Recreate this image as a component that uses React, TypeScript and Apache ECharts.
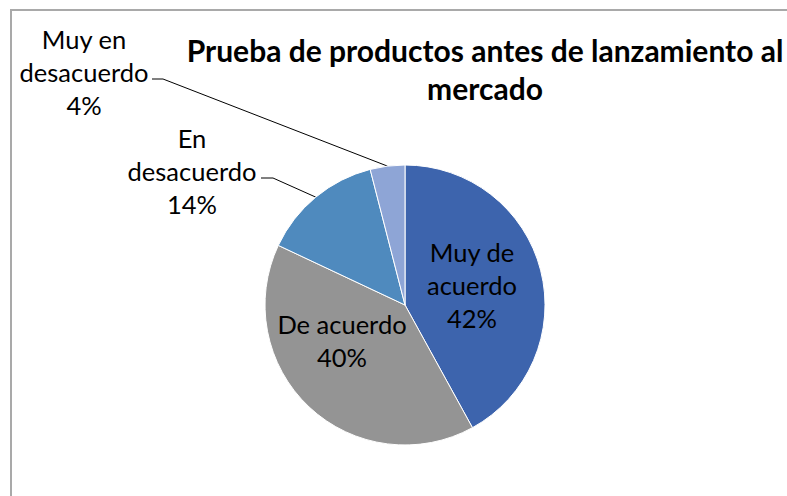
import React, { useEffect, useRef } from "react";
import * as echarts from "echarts";

const categories = ["Muy de acuerdo", "De acuerdo", "En desacuerdo", "Muy en desacuerdo"];
const labelNames = ["Muy de\nacuerdo", "De acuerdo", "En\ndesacuerdo", "Muy en\ndesacuerdo"];
const values = [42, 40, 14, 4];
const colors = ["#3D64AD", "#949494", "#4F8ABE", "#8EA5D6"];
const titleText = "Prueba de productos antes de lanzamiento al\nmercado";

// label placement (layout only)
const labelCenters: (number[] | null)[] = [[472, 285], [342, 340], [192, 171], [84, 72]];
const leaderElbows: (number[][] | null)[] = [null, null, [[273, 178], [261, 178]], [[163, 79], [152, 79]]];

const FONT = "Lato, 'Open Sans', sans-serif";

export default function App() {
  const ref = useRef<HTMLDivElement>(null);
  useEffect(() => {
    if (!ref.current) return;
    const chart = echarts.init(ref.current, undefined, { renderer: "svg" });
    const data = categories.map((name, i) => {
      const outside = leaderElbows[i] !== null;
      return {
        name,
        value: values[i],
        itemStyle: { color: colors[i] },
        label: outside ? { position: "outside" } : { position: "inside" },
        labelLine: { show: outside },
      };
    });
    chart.setOption({
      animation: false,
      backgroundColor: "#ffffff",
      graphic: [
        {
          type: "rect",
          z: -10,
          shape: { x: 11, y: 10, width: 900, height: 600 },
          style: { fill: "none", stroke: "#a9a9a9", lineWidth: 2 },
          silent: true,
        },
        {
          type: "text",
          x: 485,
          y: 69,
          style: {
            text: titleText,
            font: `bold 30px ${FONT}`,
            fill: "#000000",
            textAlign: "center",
            textVerticalAlign: "middle",
            lineHeight: 38,
          },
        },
      ],
      series: [
        {
          type: "pie",
          center: [405, 305],
          radius: 140,
          startAngle: 90,
          clockwise: true,
          avoidLabelOverlap: false,
          itemStyle: { borderColor: "#ffffff", borderWidth: 1 },
          label: {
            show: true,
            color: "#000000",
            fontFamily: FONT,
            fontSize: 25.5,
            lineHeight: 33,
            align: "center",
            formatter: (p: any) => `${labelNames[p.dataIndex]}\n${Math.round(p.percent)}%`,
          },
          labelLine: {
            show: false,
            lineStyle: { color: "#000000", width: 1 },
          },
          labelLayout: (params: any) => {
            const i = params.dataIndex;
            const c = labelCenters[i];
            if (!c) return {};
            const res: any = { x: c[0], y: c[1], align: "center", verticalAlign: "middle" };
            const elbow = leaderElbows[i];
            if (elbow && params.labelLinePoints) {
              res.labelLinePoints = [params.labelLinePoints[0], elbow[0], elbow[1]];
            }
            return res;
          },
          emphasis: { disabled: true },
          data,
        },
      ],
    });
    return () => chart.dispose();
  }, []);
  return (
    <div
      ref={ref}
      style={{ position: "absolute", left: 0, top: 0, width: 787, height: 496 }}
    />
  );
}
